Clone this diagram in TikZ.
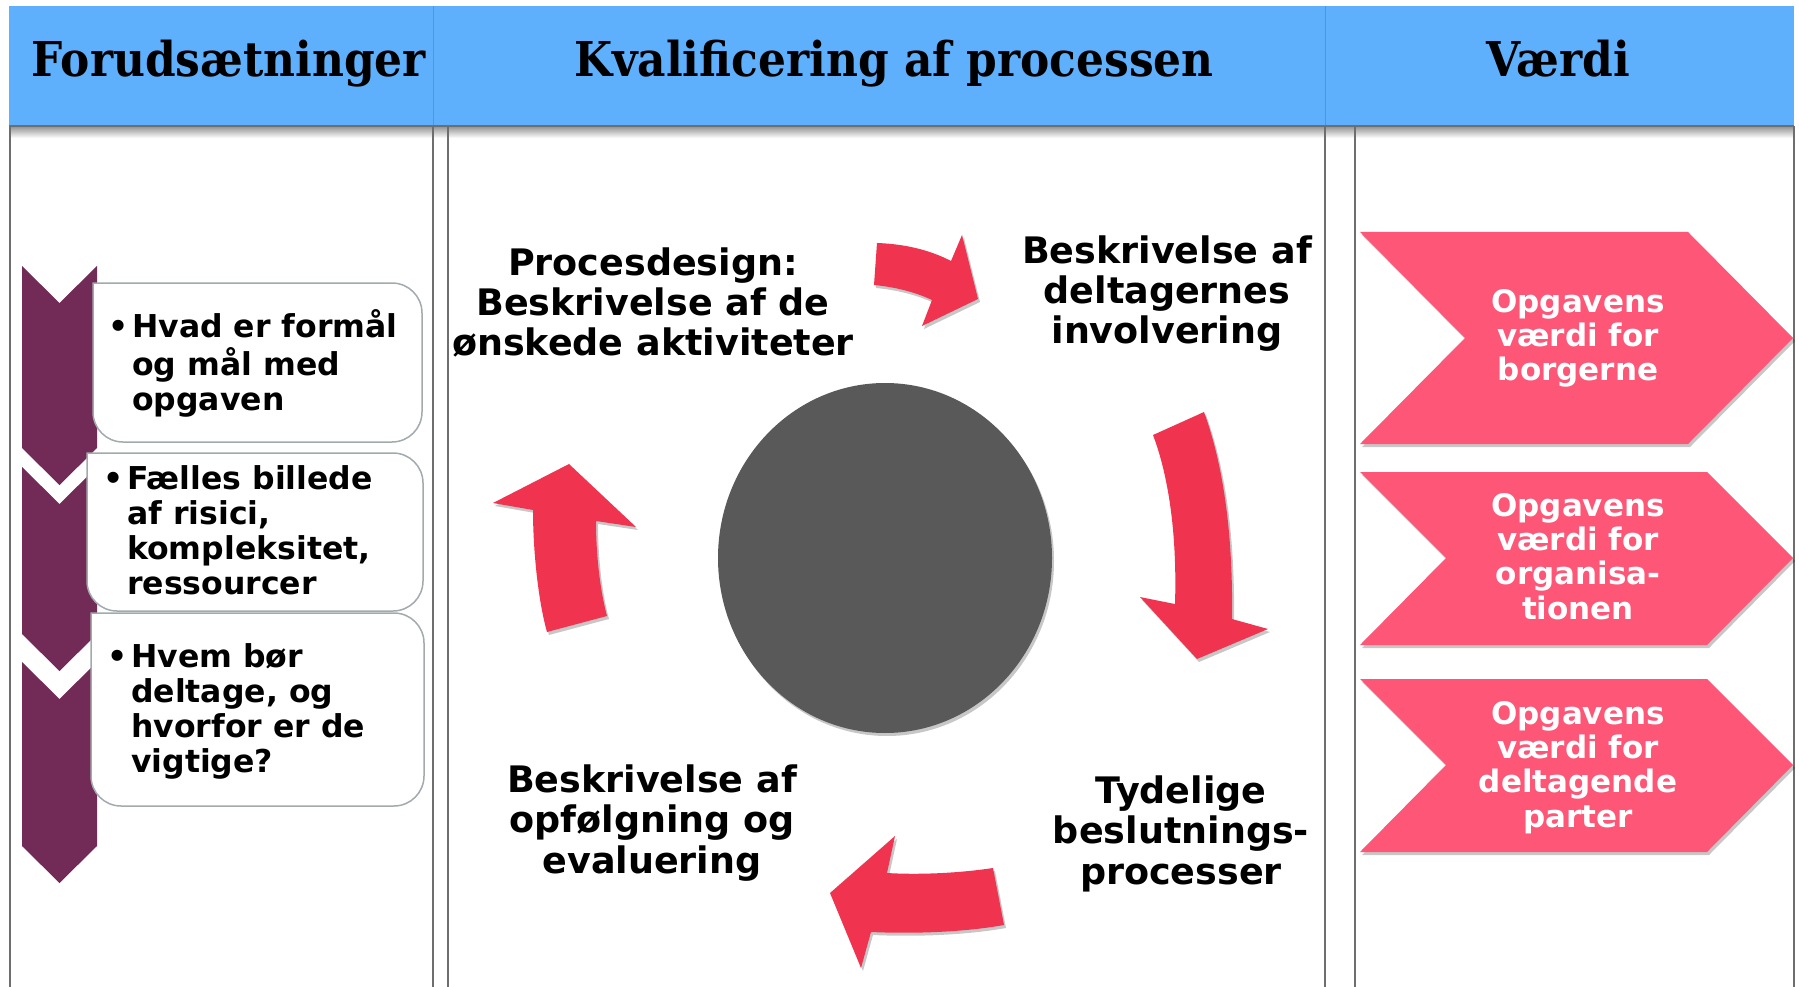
\documentclass[tikz,border=0pt]{standalone}
\usepackage{fontspec}
\newfontfamily\vfont{DejaVu Sans}
\newfontfamily\hdrfont[FakeStretch=0.915]{DejaVu Serif}
\usetikzlibrary{shapes.geometric,shadows}
\definecolor{hdrblue}{RGB}{94,176,253}
\definecolor{hdrline}{RGB}{78,150,222}
\definecolor{colgrey}{RGB}{110,110,110}
\definecolor{boxgrey}{RGB}{162,170,174}
\definecolor{plum}{RGB}{114,43,87}
\definecolor{chevpink}{RGB}{253,86,119}
\definecolor{arrowred}{RGB}{240,52,80}
\definecolor{hubgrey}{RGB}{89,89,89}
\begin{document}
\begin{tikzpicture}[x=1pt,y=-1pt,
  hdrtext/.style={font=\hdrfont\bfseries\fontsize{48}{55}\selectfont, anchor=base, inner sep=0},
  colbox/.style={draw=colgrey, line width=1.6pt, fill=white},
  infobox/.style={draw=boxgrey, line width=1.5pt, fill=white},
  bullettext/.style={font=\vfont\bfseries\fontsize{31.5}{35}\selectfont, anchor=base west, inner sep=0},
  cycletext/.style={font=\vfont\bfseries\fontsize{36.5}{40.5}\selectfont, anchor=base, inner sep=0},
  chevtext/.style={font=\vfont\bfseries\fontsize{31}{34.4}\selectfont, anchor=base, inner sep=0, text=white},
  purplechev/.style={fill=plum},
  softshadow/.style={drop shadow={shadow xshift=2pt, shadow yshift=-3pt, opacity=0.22, fill=black}},
  valuechev/.style={fill=chevpink, softshadow},
  redarrow/.style={fill=arrowred, softshadow},
]
\useasboundingbox (0,0) rectangle (1799,987);
\clip (0,0) rectangle (1799,987);
\fill[white] (0,0) rectangle (1799,987);

% column bodies
\path[fill=white] (10,126) rectangle (433,995);
\path[fill=white] (448,126) rectangle (1325,995);
\path[fill=white] (1355,126) rectangle (1794,995);
\shade[top color=black!40, bottom color=white] (9,127) rectangle (1794,138);
\draw[colgrey, line width=1.6pt] (10,126) -- (10,995);
\draw[colgrey, line width=1.6pt] (433,126) -- (433,995);
\draw[colgrey, line width=1.6pt] (448,126) -- (448,995);
\draw[colgrey, line width=1.6pt] (1325,126) -- (1325,995);
\draw[colgrey, line width=1.6pt] (1355,126) -- (1355,995);
\draw[colgrey, line width=1.6pt] (1794,126) -- (1794,995);

% header
\fill[hdrblue] (9,6) rectangle (1794,126);
\draw[hdrline, line width=1pt] (433,6) -- (433,126);
\draw[hdrline, line width=1pt] (1325,6) -- (1325,126);
\draw[colgrey, line width=1.6pt] (9,126) -- (1794,126);
\node[hdrtext] (h1) at (229,77) {Forudsætninger};
\node[hdrtext] (h2) at (894,77) {Kvalificering af processen};
\node[hdrtext] (h3) at (1558,77) {Værdi};

% left column chevrons
\fill[purplechev] (22,266) -- (59.5,303) -- (97,266) -- (97,448) -- (59.5,485) -- (22,448) -- cycle;
\fill[purplechev] (22,467) -- (59.5,504) -- (97,467) -- (97,634) -- (59.5,671) -- (22,634) -- cycle;
\fill[purplechev] (22,662) -- (59.5,699) -- (97,662) -- (97,846) -- (59.5,883) -- (22,846) -- cycle;

% left column boxes
\filldraw[infobox] (93,283) [rounded corners=30pt] -- (422,283) -- (422,442) -- (93,442) [sharp corners] -- cycle;
\filldraw[infobox] (87,453) [rounded corners=30pt] -- (423,453) -- (423,611) -- (87,611) [sharp corners] -- cycle;
\filldraw[infobox] (91,613) [rounded corners=30pt] -- (424,613) -- (424,806) -- (91,806) [sharp corners] -- cycle;

\node[bullettext] (b1) at (108,337) {\begin{tabular}[t]{@{}l@{}l@{}}\makebox[24pt][l]{•}&Hvad er formål\\&og mål med\\&opgaven\end{tabular}};
\node[bullettext] (b2) at (103,489) {\begin{tabular}[t]{@{}l@{}l@{}}\makebox[24pt][l]{•}&Fælles billede\\&af risici,\\&kompleksitet,\\&ressourcer\end{tabular}};
\node[bullettext] (b3) at (107,667) {\begin{tabular}[t]{@{}l@{}l@{}}\makebox[24pt][l]{•}&Hvem bør\\&deltage, og\\&hvorfor er de\\&vigtige?\end{tabular}};

% central cycle
\node[ellipse, fill=hubgrey, minimum width=334pt, minimum height=350pt, inner sep=0, softshadow] (hub) at (885,558) {};

\fill[redarrow] (877,243) .. controls (905,244) and (930,250) .. (951,261) -- (962,235) -- (978,299) -- (922,326) -- (932,300) .. controls (915,292) and (895,287) .. (874,285) -- cycle;
\fill[redarrow] (1204,412) .. controls (1225,470) and (1233,540) .. (1232,619) -- (1268,629) -- (1197,659) -- (1140,597) -- (1175,604) .. controls (1177,540) and (1170,480) .. (1153,435) -- cycle;
\fill[redarrow] (993,868) .. controls (960,873) and (920,875) .. (887,873) -- (895,836) -- (830,893) -- (861,968) -- (871,932) .. controls (915,934) and (965,932) .. (1004,925) -- cycle;
\fill[redarrow] (547,632) .. controls (538,600) and (533,550) .. (533,510) -- (493,503) -- (569,464) -- (636,527) -- (596,521) .. controls (596,555) and (600,590) .. (607,616) -- cycle;

\node[cycletext] (p1) at (653,275) {\begin{tabular}[t]{@{}c@{}}Procesdesign:\\Beskrivelse af de\\ønskede aktiviteter\end{tabular}};
\node[cycletext] (p2) at (1167,263) {\begin{tabular}[t]{@{}c@{}}Beskrivelse af\\deltagernes\\involvering\end{tabular}};
\node[cycletext] (p3) at (1181,803) {\begin{tabular}[t]{@{}c@{}}Tydelige\\beslutnings-\\processer\end{tabular}};
\node[cycletext] (p4) at (652,792) {\begin{tabular}[t]{@{}c@{}}Beskrivelse af\\opfølgning og\\evaluering\end{tabular}};

% value chevrons
\fill[valuechev] (1360,232) -- (1688,232) -- (1793,338) -- (1688,444) -- (1360,444) -- (1465,338) -- cycle;
\fill[valuechev] (1360,472) -- (1707,472) -- (1793,558) -- (1707,645) -- (1360,645) -- (1446,558) -- cycle;
\fill[valuechev] (1360,679) -- (1707,679) -- (1793,765) -- (1707,852) -- (1360,852) -- (1446,765) -- cycle;

\node[chevtext] (v1) at (1578,312) {\begin{tabular}[t]{@{}c@{}}Opgavens\\værdi for\\borgerne\end{tabular}};
\node[chevtext] (v2) at (1578,516) {\begin{tabular}[t]{@{}c@{}}Opgavens\\værdi for\\organisa-\\tionen\end{tabular}};
\node[chevtext] (v3) at (1578,724) {\begin{tabular}[t]{@{}c@{}}Opgavens\\værdi for\\deltagende\\parter\end{tabular}};
\end{tikzpicture}
\end{document}
